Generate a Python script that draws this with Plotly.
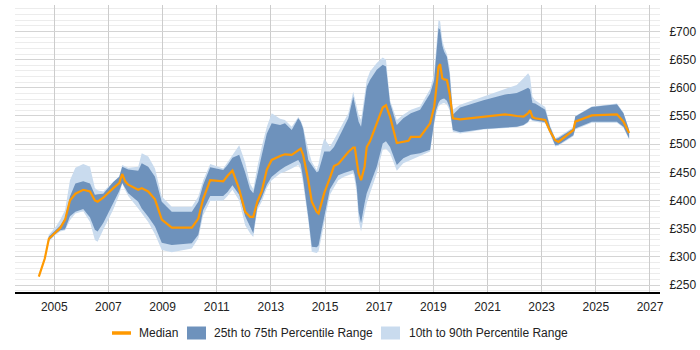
import plotly.graph_objects as go

years = [2004.43, 2004.65, 2004.80, 2005.05, 2005.22, 2005.40, 2005.58, 2005.78, 2006.07, 2006.32,
         2006.50, 2006.60, 2006.81, 2007.18, 2007.40, 2007.51, 2007.62, 2007.73, 2008.10, 2008.23,
         2008.47, 2008.72, 2008.97, 2009.34, 2010.08, 2010.32, 2010.50, 2010.76, 2011.24, 2011.40,
         2011.58, 2011.83, 2012.05, 2012.23, 2012.35, 2012.50, 2012.66, 2012.85, 2013.03, 2013.34,
         2013.52, 2013.77, 2014.01, 2014.10, 2014.19, 2014.38, 2014.51, 2014.69, 2014.76, 2014.88,
         2014.97, 2015.18, 2015.33, 2015.49, 2015.70, 2015.86, 2016.04, 2016.10, 2016.17, 2016.24,
         2016.33, 2016.46, 2016.54, 2016.66, 2016.91, 2017.13, 2017.25, 2017.40, 2017.65, 2017.89,
         2018.08, 2018.17, 2018.51, 2018.88, 2019.03, 2019.10, 2019.19, 2019.25, 2019.33, 2019.40,
         2019.50, 2019.60, 2019.72, 2019.99, 2020.85, 2021.65, 2022.08, 2022.33, 2022.50, 2022.57,
         2022.66, 2022.76, 2023.13, 2023.31, 2023.50, 2023.62, 2024.17, 2024.24, 2024.85, 2025.78,
         2026.02, 2026.23]

median = [265, 297, 332, 344, 351, 366, 400, 412, 419, 416,
          400, 398, 405, 422, 431, 447, 434, 428, 419, 422,
          416, 402, 366, 352, 352, 368, 403, 436, 434, 444,
          453, 420, 380, 371, 371, 398, 416, 455, 472, 479,
          482, 481, 490, 492, 481, 436, 398, 380, 377, 400,
          413, 440, 461, 465, 478, 486, 494, 494, 470, 448,
          436, 460, 495, 505, 537, 565, 569, 549, 502, 504,
          506, 513, 513, 537, 566, 595, 637, 642, 617, 615,
          614, 590, 546, 544, 548, 553, 550, 549, 555, 560,
          548, 546, 543, 523, 507, 504, 525, 540, 551, 553,
          540, 520]

p25 = [265, 296, 329, 341, 347, 349, 372, 380, 385, 370,
       348, 345, 360, 396, 417, 431, 421, 413, 398, 386,
       371, 354, 325, 321, 324, 339, 383, 408, 408, 415,
       427, 410, 372, 353, 342, 389, 405, 428, 442, 454,
       460, 466, 472, 465, 439, 371, 318, 317, 320, 350,
       371, 420, 432, 445, 449, 451, 454, 445, 424, 380,
       360, 395, 413, 428, 460, 501, 505, 495, 463, 475,
       479, 481, 484, 490, 540, 560, 573, 578, 580, 581,
       577, 565, 525, 521, 527, 530, 531, 534, 540, 546,
       543, 542, 539, 520, 498, 499, 516, 528, 540, 540,
       531, 510]

p75 = [265, 298, 336, 348, 355, 369, 407, 430, 434, 430,
       410, 411, 412, 433, 442, 460, 457, 455, 453, 466,
       460, 442, 398, 380, 380, 398, 428, 459, 454, 463,
       476, 481, 450, 420, 413, 448, 480, 519, 537, 534,
       537, 525, 546, 540, 528, 472, 463, 450, 452, 470,
       487, 487, 495, 510, 532, 546, 584, 570, 555, 540,
       531, 575, 602, 614, 632, 641, 638, 573, 534, 546,
       552, 555, 561, 590, 614, 660, 706, 703, 675, 664,
       655, 625, 552, 565, 578, 588, 591, 596, 600, 597,
       573, 572, 561, 531, 509, 511, 528, 549, 566, 571,
       555, 525]

p10 = [265, 295, 327, 339, 345, 347, 365, 377, 381, 362,
       330, 327, 348, 384, 410, 430, 418, 408, 386, 377,
       362, 340, 312, 308, 315, 333, 374, 399, 400, 408,
       419, 400, 356, 342, 335, 383, 398, 422, 436, 448,
       451, 457, 463, 455, 430, 365, 309, 307, 310, 338,
       359, 410, 423, 436, 442, 445, 448, 435, 413, 365,
       345, 378, 395, 413, 448, 490, 492, 484, 453, 466,
       470, 472, 478, 487, 535, 552, 567, 570, 572, 573,
       570, 560, 522, 519, 526, 529, 530, 533, 538, 544,
       541, 540, 537, 518, 496, 497, 514, 526, 538, 538,
       529, 508]

p90 = [265, 299, 339, 353, 366, 383, 436, 458, 465, 460,
       422, 418, 416, 434, 443, 463, 460, 458, 460, 484,
       478, 457, 407, 389, 389, 407, 436, 465, 457, 468,
       480, 498, 468, 430, 420, 460, 495, 531, 555, 545,
       543, 531, 548, 542, 531, 490, 469, 454, 465, 495,
       510, 496, 508, 522, 541, 555, 593, 580, 566, 552,
       543, 590, 614, 629, 644, 654, 650, 578, 543, 552,
       558, 561, 567, 598, 625, 672, 720, 718, 685, 672,
       660, 635, 561, 570, 584, 598, 605, 617, 626, 620,
       584, 578, 566, 533, 511, 513, 530, 550, 567, 572,
       556, 526]

x_ticks = list(range(2005, 2028, 2))
y_ticks = list(range(250, 701, 50))
y_labels = ["£%d" % v for v in y_ticks]
legend_labels = ["Median", "25th to 75th Percentile Range", "10th to 90th Percentile Range"]

DARK = "#6e92bc"
LIGHT = "#c9dbee"
ORANGE = "#ff9900"

# plot-area geometry in pixels (for placing the legend below the plot)
L, R, T, B = 15, 40, 5, 58
W, H = 700, 350
PW, PH = W - L - R, H - T - B


def px(x):
    return (x - L) / PW


def py(y):
    return (H - B - y) / PH


fig = go.Figure()
fig.add_trace(go.Scatter(x=years, y=p10, mode="lines", line=dict(width=0, color=LIGHT),
                         showlegend=False, hoverinfo="skip"))
fig.add_trace(go.Scatter(x=years, y=p90, mode="lines", line=dict(width=0, color=LIGHT),
                         fill="tonexty", fillcolor=LIGHT, name=legend_labels[2], showlegend=False))
fig.add_trace(go.Scatter(x=years, y=p25, mode="lines", line=dict(width=0, color=DARK),
                         showlegend=False, hoverinfo="skip"))
fig.add_trace(go.Scatter(x=years, y=p75, mode="lines", line=dict(width=0, color=DARK),
                         fill="tonexty", fillcolor=DARK, name=legend_labels[1], showlegend=False))
fig.add_trace(go.Scatter(x=years, y=median, mode="lines", line=dict(width=2.2, color=ORANGE),
                         name=legend_labels[0], showlegend=False))

# legend drawn below the plot
ly = 333
shapes = [
    dict(type="line", xref="paper", yref="paper", x0=px(112), x1=px(131), y0=py(ly), y1=py(ly),
         line=dict(color=ORANGE, width=3.5)),
    dict(type="rect", xref="paper", yref="paper", x0=px(187), x1=px(206), y0=py(ly - 6.5), y1=py(ly + 6.5),
         fillcolor=DARK, line=dict(width=0)),
    dict(type="rect", xref="paper", yref="paper", x0=px(381), x1=px(400), y0=py(ly - 6.5), y1=py(ly + 6.5),
         fillcolor=LIGHT, line=dict(width=0)),
]
annotations = []
for tx, label in zip([137, 212, 407], legend_labels):
    annotations.append(dict(xref="paper", yref="paper", x=px(tx), y=py(ly), text=label,
                            showarrow=False, xanchor="left", yanchor="middle",
                            font=dict(size=12, color="#222")))

fig.update_layout(
    width=W, height=H,
    margin=dict(l=L, r=R, t=T, b=B),
    paper_bgcolor="white", plot_bgcolor="white",
    font=dict(family="Liberation Sans, Arial, sans-serif", size=12, color="#222"),
    showlegend=False,
    shapes=shapes,
    annotations=annotations,
    xaxis=dict(range=[2003.55, 2027.37], tickvals=x_ticks, ticktext=[str(v) for v in x_ticks],
               showgrid=True, gridcolor="#cccccc", gridwidth=1,
               showline=True, linecolor="#000000", linewidth=1.5,
               ticks="outside", ticklen=3, tickcolor="rgba(0,0,0,0)", zeroline=False,
               fixedrange=True),
    yaxis=dict(range=[237.6, 747], side="right", tickvals=y_ticks, ticktext=y_labels,
               showgrid=True, gridcolor="#d4d4d4", gridwidth=1,
               minor=dict(dtick=10, tick0=0, showgrid=True, gridcolor="#ececec", gridwidth=1),
               showline=False, zeroline=False,
               ticks="outside", ticklen=6, tickcolor="rgba(0,0,0,0)", fixedrange=True),
)

fig.write_html("out.html")
